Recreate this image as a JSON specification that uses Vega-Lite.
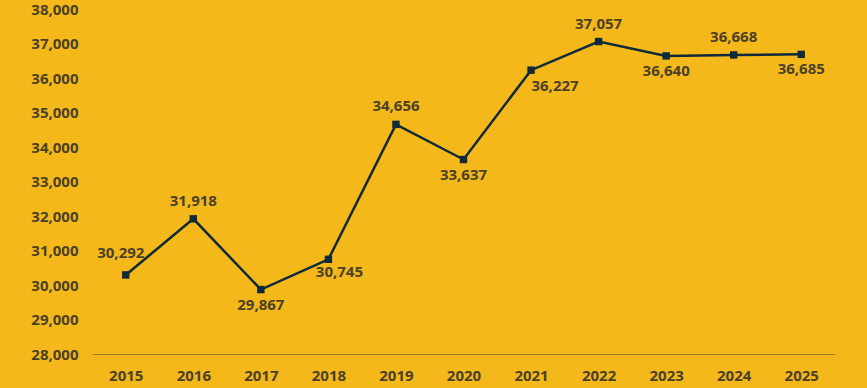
{
  "$schema": "https://vega.github.io/schema/vega-lite/v6.json",
  "width": 743,
  "height": 345,
  "autosize": {"type": "none"},
  "padding": {"left": 92, "top": 9, "right": 32, "bottom": 34},
  "background": "#F4B81A",
  "config": {
    "view": {"stroke": null},
    "font": "Open Sans"
  },
  "data": {
    "values": [
      {"year": "2015", "value": 30292, "pos": "aboveleft"},
      {"year": "2016", "value": 31918, "pos": "above"},
      {"year": "2017", "value": 29867, "pos": "below"},
      {"year": "2018", "value": 30745, "pos": "belowright"},
      {"year": "2019", "value": 34656, "pos": "above"},
      {"year": "2020", "value": 33637, "pos": "below"},
      {"year": "2021", "value": 36227, "pos": "right"},
      {"year": "2022", "value": 37057, "pos": "above"},
      {"year": "2023", "value": 36640, "pos": "below"},
      {"year": "2024", "value": 36668, "pos": "above"},
      {"year": "2025", "value": 36685, "pos": "below"}
    ]
  },
  "encoding": {
    "x": {
      "field": "year", "type": "ordinal",
      "scale": {"type": "point", "padding": 0.5},
      "axis": {
        "title": null, "labelAngle": 0, "ticks": false,
        "domainColor": "#9C7A2A", "domainWidth": 1,
        "labelFont": "Open Sans", "labelFontWeight": "bold", "labelFontSize": 15,
        "labelColor": "#4A4128", "labelPadding": 14
      }
    },
    "y": {
      "field": "value", "type": "quantitative",
      "scale": {"domain": [28000, 38000], "nice": false, "zero": false},
      "axis": {
        "title": null, "values": [28000, 29000, 30000, 31000, 32000, 33000, 34000, 35000, 36000, 37000, 38000],
        "format": ",d", "grid": false, "domain": false, "ticks": false,
        "labelFont": "Open Sans", "labelFontWeight": "bold", "labelFontSize": 15,
        "labelColor": "#4A4128", "labelPadding": 14
      }
    }
  },
  "layer": [
    {"mark": {"type": "line", "color": "#0F2A3A", "strokeWidth": 2.5}},
    {"mark": {"type": "point", "shape": "square", "filled": true, "size": 55, "color": "#0F2A3A", "opacity": 1}},
    {
      "transform": [{"filter": "datum.pos == 'above'"}],
      "mark": {"type": "text", "dy": -18, "fontSize": 15, "fontWeight": "bold", "color": "#4A4128", "font": "Open Sans"},
      "encoding": {"text": {"field": "value", "type": "quantitative", "format": ",d"}}
    },
    {
      "transform": [{"filter": "datum.pos == 'aboveleft'"}],
      "mark": {"type": "text", "dy": -22, "dx": -5, "fontSize": 15, "fontWeight": "bold", "color": "#4A4128", "font": "Open Sans"},
      "encoding": {"text": {"field": "value", "type": "quantitative", "format": ",d"}}
    },
    {
      "transform": [{"filter": "datum.pos == 'below'"}],
      "mark": {"type": "text", "dy": 15, "fontSize": 15, "fontWeight": "bold", "color": "#4A4128", "font": "Open Sans"},
      "encoding": {"text": {"field": "value", "type": "quantitative", "format": ",d"}}
    },
    {
      "transform": [{"filter": "datum.pos == 'belowright'"}],
      "mark": {"type": "text", "dy": 13, "dx": 11, "fontSize": 15, "fontWeight": "bold", "color": "#4A4128", "font": "Open Sans"},
      "encoding": {"text": {"field": "value", "type": "quantitative", "format": ",d"}}
    },
    {
      "transform": [{"filter": "datum.pos == 'right'"}],
      "mark": {"type": "text", "dy": 16, "dx": 24, "fontSize": 15, "fontWeight": "bold", "color": "#4A4128", "font": "Open Sans"},
      "encoding": {"text": {"field": "value", "type": "quantitative", "format": ",d"}}
    }
  ]
}
